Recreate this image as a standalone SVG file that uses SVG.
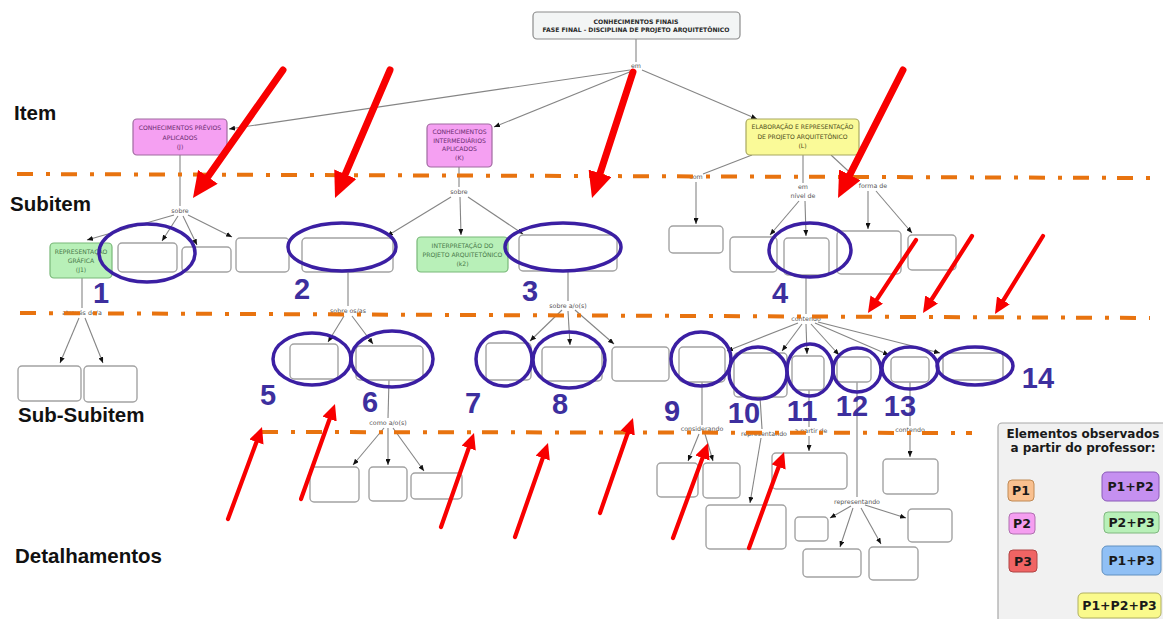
<svg xmlns="http://www.w3.org/2000/svg" width="1163" height="619" viewBox="0 0 1163 619">
  <style>
    .box { fill: #ffffff; stroke: #a3a3a3; stroke-width: 1.4; }
    .nt { font-family: "DejaVu Sans", Verdana, sans-serif; font-size: 6.1px; text-anchor: middle; }
    .lbl { font-family: "DejaVu Sans", Verdana, sans-serif; font-size: 6.3px; fill: #555555; text-anchor: middle; }
    .ln { fill: none; stroke: #858585; stroke-width: 1.1; }
    .arr { marker-end: url(#tip); }
    .band { fill: none; stroke: #e8730f; stroke-width: 4; stroke-dasharray: 16 13 4 11; }
    .lev { font-family: "Liberation Sans", Arial, sans-serif; font-size: 20.5px; font-weight: bold; fill: #111111; }
    .ring { fill: none; stroke: #3b1fa3; stroke-width: 3.5; }
    .num { font-family: "Liberation Sans", Arial, sans-serif; font-size: 29px; font-weight: bold; fill: #3d2f9e; text-anchor: middle; }
    .red { fill: none; stroke: #f80000; stroke-linecap: round; }
    .big { stroke-width: 7; marker-end: url(#redBig); }
    .small { stroke-width: 4.2; marker-end: url(#redSmall); }
    .leg { font-family: "DejaVu Sans", Verdana, sans-serif; font-weight: bold; fill: #1a1a1a; text-anchor: middle; }
  </style>
  <defs>
    <marker id="tip" markerUnits="userSpaceOnUse" markerWidth="6" markerHeight="5" viewBox="0 0 6 5" refX="6" refY="2.5" orient="auto">
      <path d="M0,0 L6,2.5 L0,5 z" fill="#111111"/>
    </marker>
    <marker id="redBig" markerUnits="userSpaceOnUse" markerWidth="26" markerHeight="24" viewBox="0 0 26 24" refX="4" refY="12" orient="auto">
      <path d="M0,0 L26,12 L0,24 z" fill="#f80000"/>
    </marker>
    <marker id="redSmall" markerUnits="userSpaceOnUse" markerWidth="16" markerHeight="15" viewBox="0 0 16 15" refX="3" refY="7.5" orient="auto">
      <path d="M0,0 L16,7.5 L0,15 z" fill="#f80000"/>
    </marker>
  </defs>

  <rect width="1163" height="619" fill="#ffffff"/>

  <!-- level names -->
  <g id="levels">
    <text class="lev" x="14" y="120">Item</text>
    <text class="lev" x="10" y="211">Subitem</text>
    <text class="lev" x="18" y="422">Sub-Subitem</text>
    <text class="lev" x="15" y="563">Detalhamentos</text>
  </g>

  <!-- connectors -->
  <g id="connectors">
    <path class="ln" d="M636,39 V62"/>
    <path class="ln arr" d="M630,70 L229,129"/>
    <path class="ln arr" d="M632,71 L494,127"/>
    <path class="ln arr" d="M642,70 L757,119"/>

    <path class="ln" d="M180,155 V206"/>
    <path class="ln arr" d="M174,215 L87,240"/>
    <path class="ln arr" d="M178,216 L162,241"/>
    <path class="ln arr" d="M183,216 L197,245"/>
    <path class="ln arr" d="M188,215 L232,237"/>

    <path class="ln" d="M459,167 V187"/>
    <path class="ln arr" d="M451,197 L387,236"/>
    <path class="ln arr" d="M460,197 L461,235"/>
    <path class="ln arr" d="M468,197 L523,234"/>

    <path class="ln" d="M568,271 V301"/>
    <path class="ln arr" d="M562,310 L530,341"/>
    <path class="ln arr" d="M568,311 L570,345"/>
    <path class="ln arr" d="M575,310 L614,344"/>

    <path class="ln" d="M82,278 V308"/>
    <path class="ln arr" d="M79,318 L60,363"/>
    <path class="ln arr" d="M85,318 L103,363"/>

    <path class="ln" d="M348,272 V306"/>
    <path class="ln arr" d="M344,316 L328,342"/>
    <path class="ln arr" d="M352,316 L373,344"/>

    <path class="ln" d="M389,380 L388,418"/>
    <path class="ln arr" d="M384,428 L353,465"/>
    <path class="ln arr" d="M388,428 V465"/>
    <path class="ln arr" d="M393,428 L424,471"/>

    <path class="ln" d="M752,155 L703,174"/>
    <path class="ln arr" d="M696,182 V224"/>
    <path class="ln" d="M803,155 V183"/>
    <path class="ln arr" d="M799,201 L770,235"/>
    <path class="ln arr" d="M805,201 L806,236"/>
    <path class="ln" d="M831,155 L859,181"/>
    <path class="ln arr" d="M868,191 V229"/>
    <path class="ln arr" d="M876,191 L912,233"/>

    <path class="ln" d="M806,275 V314"/>
    <path class="ln arr" d="M798,323 L727,351"/>
    <path class="ln arr" d="M802,324 L782,351"/>
    <path class="ln arr" d="M806,324 L807,354"/>
    <path class="ln arr" d="M811,324 L839,355"/>
    <path class="ln arr" d="M815,323 L889,355"/>
    <path class="ln arr" d="M818,322 L940,353"/>

    <path class="ln" d="M702,382 V425"/>
    <path class="ln arr" d="M699,434 L688,461"/>
    <path class="ln arr" d="M705,434 L713,461"/>
    <path class="ln" d="M760,397 L762,429"/>
    <path class="ln arr" d="M761,438 L750,503"/>
    <path class="ln" d="M809,390 V427"/>
    <path class="ln arr" d="M809,436 V451"/>
    <path class="ln" d="M857,382 V497"/>
    <path class="ln arr" d="M851,506 L830,518"/>
    <path class="ln arr" d="M853,508 L840,547"/>
    <path class="ln arr" d="M861,508 L881,544"/>
    <path class="ln arr" d="M865,505 L906,518"/>
    <path class="ln" d="M910,382 V426"/>
    <path class="ln arr" d="M910,435 V457"/>
  </g>

  <!-- linking phrases -->
  <g id="phrases">
    <text class="lbl" x="636" y="68">em</text>
    <text class="lbl" x="180" y="213">sobre</text>
    <text class="lbl" x="459" y="194">sobre</text>
    <text class="lbl" x="82" y="315">através de/a</text>
    <text class="lbl" x="348" y="313">sobre os/as</text>
    <text class="lbl" x="568" y="308">sobre a/o(s)</text>
    <text class="lbl" x="388" y="425">como a/o(s)</text>
    <text class="lbl" x="696" y="179">com</text>
    <text class="lbl" x="803" y="189">em</text>
    <text class="lbl" x="803" y="198">nível de</text>
    <text class="lbl" x="873" y="188">forma de</text>
    <text class="lbl" x="806" y="321">contendo</text>
    <text class="lbl" x="702" y="431">considerando</text>
    <text class="lbl" x="764" y="436">representando</text>
    <text class="lbl" x="811" y="433">a partir de</text>
    <text class="lbl" x="910" y="432">contendo</text>
    <text class="lbl" x="857" y="504">representando</text>
  </g>

  <!-- concept nodes -->
  <g id="n-root">
    <rect x="533" y="12" width="207" height="27" rx="4" fill="#f3f5f5" stroke="#8c8c8c" stroke-width="1.2"/>
    <text class="nt" x="636" y="23.5" font-weight="bold" font-size="6.2" fill="#2a2a2a">CONHECIMENTOS FINAIS</text>
    <text class="nt" x="636" y="31.5" font-weight="bold" font-size="6.2" fill="#2a2a2a">FASE FINAL - DISCIPLINA DE PROJETO ARQUITETÔNICO</text>
  </g>
  <g id="n-j">
    <rect x="133" y="119" width="94" height="36" rx="4" fill="#f5a0f2" stroke="#a06aa0" stroke-width="1.2"/>
    <text class="nt" x="180" y="130" fill="#6a2c70">CONHECIMENTOS PRÉVIOS</text>
    <text class="nt" x="180" y="140" fill="#6a2c70">APLICADOS</text>
    <text class="nt" x="180" y="149" fill="#6a2c70">(J)</text>
  </g>
  <g id="n-k">
    <rect x="427" y="124" width="65" height="43" rx="4" fill="#f5a0f2" stroke="#a06aa0" stroke-width="1.2"/>
    <text class="nt" x="459.5" y="134" fill="#6a2c70">CONHECIMENTOS</text>
    <text class="nt" x="459.5" y="143" fill="#6a2c70">INTERMEDIÁRIOS</text>
    <text class="nt" x="459.5" y="151" fill="#6a2c70">APLICADOS</text>
    <text class="nt" x="459.5" y="160" fill="#6a2c70">(K)</text>
  </g>
  <g id="n-l">
    <rect x="746" y="119" width="113" height="36" rx="4" fill="#fafa98" stroke="#a8a860" stroke-width="1.2"/>
    <text class="nt" x="802.5" y="129" fill="#4f4f20">ELABORAÇÃO E REPRESENTAÇÃO</text>
    <text class="nt" x="802.5" y="139" fill="#4f4f20">DE PROJETO ARQUITETÔNICO</text>
    <text class="nt" x="802.5" y="148" fill="#4f4f20">(L)</text>
  </g>
  <g id="n-j1">
    <rect x="50" y="243" width="62" height="35" rx="4" fill="#b8f0b8" stroke="#78b878" stroke-width="1.2"/>
    <text class="nt" x="81" y="254" fill="#4a7a4a">REPRESENTAÇÃO</text>
    <text class="nt" x="81" y="263" fill="#4a7a4a">GRÁFICA</text>
    <text class="nt" x="81" y="272" fill="#4a7a4a">(J1)</text>
  </g>
  <g id="n-k2">
    <rect x="417" y="237" width="91" height="35" rx="4" fill="#b8f0b8" stroke="#78b878" stroke-width="1.2"/>
    <text class="nt" x="462.5" y="248" fill="#4a7a4a">INTERPRETAÇÃO DO</text>
    <text class="nt" x="462.5" y="257" fill="#4a7a4a">PROJETO ARQUITETÔNICO</text>
    <text class="nt" x="462.5" y="266" fill="#4a7a4a">(k2)</text>
  </g>

  <!-- empty concept boxes -->
  <g id="n-1"><rect class="box" x="118" y="243" width="59" height="29" rx="4"/></g>
  <g id="n-1b"><rect class="box" x="182" y="247" width="49" height="25" rx="4"/></g>
  <g id="n-1c"><rect class="box" x="236" y="238" width="53" height="34" rx="4"/></g>
  <g id="n-2"><rect class="box" x="302" y="238" width="91" height="34" rx="4"/></g>
  <g id="n-3"><rect class="box" x="519" y="235" width="98" height="36" rx="4"/></g>
  <g id="n-com"><rect class="box" x="669" y="226" width="54" height="27" rx="4"/></g>
  <g id="n-nivel"><rect class="box" x="730" y="237" width="47" height="35" rx="4"/></g>
  <g id="n-4"><rect class="box" x="784" y="238" width="45" height="37" rx="4"/></g>
  <g id="n-forma-a"><rect class="box" x="837" y="231" width="64" height="43" rx="4"/></g>
  <g id="n-forma-b"><rect class="box" x="908" y="235" width="48" height="35" rx="4"/></g>
  <g id="n-j1-a"><rect class="box" x="18" y="366" width="63" height="35" rx="4"/></g>
  <g id="n-j1-b"><rect class="box" x="84" y="366" width="53" height="36" rx="4"/></g>
  <g id="n-5"><rect class="box" x="290" y="344" width="48" height="35" rx="4"/></g>
  <g id="n-6"><rect class="box" x="356" y="346" width="67" height="34" rx="4"/></g>
  <g id="n-7"><rect class="box" x="486" y="343" width="45" height="37" rx="4"/></g>
  <g id="n-8"><rect class="box" x="542" y="347" width="60" height="34" rx="4"/></g>
  <g id="n-8b"><rect class="box" x="612" y="347" width="57" height="34" rx="4"/></g>
  <g id="n-9"><rect class="box" x="679" y="347" width="46" height="35" rx="4"/></g>
  <g id="n-10"><rect class="box" x="734" y="353" width="53" height="44" rx="4"/></g>
  <g id="n-11"><rect class="box" x="792" y="356" width="32" height="34" rx="4"/></g>
  <g id="n-12"><rect class="box" x="837" y="357" width="34" height="25" rx="4"/></g>
  <g id="n-13"><rect class="box" x="891" y="357" width="38" height="25" rx="4"/></g>
  <g id="n-14"><rect class="box" x="943" y="353" width="60" height="27" rx="4"/></g>
  <g id="n-6a"><rect class="box" x="310" y="467" width="49" height="35" rx="4"/></g>
  <g id="n-6b"><rect class="box" x="369" y="467" width="38" height="34" rx="4"/></g>
  <g id="n-6c"><rect class="box" x="411" y="473" width="51" height="26" rx="4"/></g>
  <g id="n-9a"><rect class="box" x="657" y="463" width="41" height="34" rx="4"/></g>
  <g id="n-9b"><rect class="box" x="703" y="463" width="37" height="35" rx="4"/></g>
  <g id="n-10a"><rect class="box" x="706" y="505" width="80" height="44" rx="4"/></g>
  <g id="n-11a"><rect class="box" x="772" y="453" width="75" height="36" rx="4"/></g>
  <g id="n-12a"><rect class="box" x="795" y="517" width="33" height="24" rx="4"/></g>
  <g id="n-12b"><rect class="box" x="803" y="549" width="58" height="28" rx="4"/></g>
  <g id="n-12c"><rect class="box" x="869" y="547" width="49" height="33" rx="4"/></g>
  <g id="n-12d"><rect class="box" x="908" y="509" width="44" height="33" rx="4"/></g>
  <g id="n-13a"><rect class="box" x="883" y="459" width="55" height="35" rx="4"/></g>

  <!-- level separators -->
  <g id="bands">
    <line class="band" x1="17" y1="174" x2="1150" y2="178"/>
    <line class="band" x1="20" y1="313" x2="1150" y2="318"/>
    <line class="band" x1="262" y1="432" x2="972" y2="433"/>
  </g>

  <!-- highlighted elements -->
  <g id="rings">
    <ellipse class="ring" cx="147" cy="253" rx="48" ry="29"/>
    <ellipse class="ring" cx="342" cy="247" rx="54" ry="24"/>
    <ellipse class="ring" cx="563" cy="247" rx="58" ry="24"/>
    <ellipse class="ring" cx="810" cy="250" rx="41" ry="27"/>
    <ellipse class="ring" cx="312" cy="359" rx="39" ry="26"/>
    <ellipse class="ring" cx="392" cy="359" rx="41" ry="28"/>
    <ellipse class="ring" cx="504" cy="359" rx="28" ry="27"/>
    <ellipse class="ring" cx="569" cy="360" rx="36" ry="28"/>
    <ellipse class="ring" cx="701" cy="359" rx="30" ry="27"/>
    <ellipse class="ring" cx="758" cy="373" rx="29" ry="26"/>
    <ellipse class="ring" cx="810" cy="370" rx="23" ry="26"/>
    <ellipse class="ring" cx="857" cy="370" rx="24" ry="22"/>
    <ellipse class="ring" cx="910" cy="368" rx="28" ry="21"/>
    <ellipse class="ring" cx="975" cy="366" rx="38" ry="19"/>
  </g>
  <g id="numbers">
    <text class="num" x="101" y="303">1</text>
    <text class="num" x="302" y="299">2</text>
    <text class="num" x="530" y="301">3</text>
    <text class="num" x="780" y="303">4</text>
    <text class="num" x="268" y="405">5</text>
    <text class="num" x="370" y="412">6</text>
    <text class="num" x="473" y="413">7</text>
    <text class="num" x="560" y="414">8</text>
    <text class="num" x="672" y="421">9</text>
    <text class="num" x="744" y="423">10</text>
    <text class="num" x="802" y="421">11</text>
    <text class="num" x="852" y="416">12</text>
    <text class="num" x="900" y="416">13</text>
    <text class="num" x="1038" y="388">14</text>
  </g>

  <!-- red pointers -->
  <g id="pointers">
    <line class="red big" x1="283" y1="70" x2="205.6" y2="180"/>
    <line class="red big" x1="390" y1="70" x2="343.7" y2="177.8"/>
    <line class="red big" x1="633" y1="72" x2="598.8" y2="177.1"/>
    <line class="red big" x1="903" y1="70" x2="848" y2="178.4"/>
    <line class="red small" x1="916" y1="240" x2="875.1" y2="302.1"/>
    <line class="red small" x1="972" y1="236" x2="930" y2="302"/>
    <line class="red small" x1="1043" y1="236" x2="1001.8" y2="302.9"/>
    <line class="red small" x1="228" y1="519" x2="257.5" y2="439.2"/>
    <line class="red small" x1="301" y1="499" x2="330.6" y2="416.2"/>
    <line class="red small" x1="441" y1="527" x2="469.7" y2="445.3"/>
    <line class="red small" x1="515" y1="537" x2="543.7" y2="455.3"/>
    <line class="red small" x1="600" y1="513" x2="628.7" y2="430.3"/>
    <line class="red small" x1="673" y1="538" x2="703.5" y2="455.2"/>
    <line class="red small" x1="749" y1="548" x2="779.6" y2="464.2"/>
  </g>

  <!-- legend -->
  <g id="legend">
    <rect x="998" y="423" width="172" height="200" rx="4" fill="#f1f1f1" stroke="#a8a8a8" stroke-width="1.2"/>
    <text class="leg" x="1083" y="438" font-size="12">Elementos observados</text>
    <text class="leg" x="1083" y="452" font-size="12">a partir do professor:</text>
    <rect x="1008" y="480" width="26" height="21" rx="4" fill="#f9c08f" stroke="#c08a55"/>
    <text class="leg" x="1021" y="495" font-size="12.5">P1</text>
    <rect x="1102" y="472" width="57" height="29" rx="5" fill="#c590f0" stroke="#8a5ab8"/>
    <text class="leg" x="1130.5" y="491" font-size="12.5">P1+P2</text>
    <rect x="1009" y="513" width="26" height="21" rx="4" fill="#f59ef0" stroke="#b070b0"/>
    <text class="leg" x="1022" y="528" font-size="12.5">P2</text>
    <rect x="1104" y="512" width="55" height="21" rx="4" fill="#b8f0b8" stroke="#80b880"/>
    <text class="leg" x="1131.5" y="527" font-size="12.5">P2+P3</text>
    <rect x="1009" y="550" width="28" height="22" rx="4" fill="#f06464" stroke="#b04444"/>
    <text class="leg" x="1023" y="565.5" font-size="12.5">P3</text>
    <rect x="1102" y="546" width="59" height="29" rx="5" fill="#90c0f5" stroke="#6090c0"/>
    <text class="leg" x="1131.5" y="565" font-size="12.5">P1+P3</text>
    <rect x="1078" y="593" width="83" height="25" rx="5" fill="#fafa8c" stroke="#b0b060"/>
    <text class="leg" x="1119.5" y="610" font-size="12.5">P1+P2+P3</text>
  </g>
</svg>
